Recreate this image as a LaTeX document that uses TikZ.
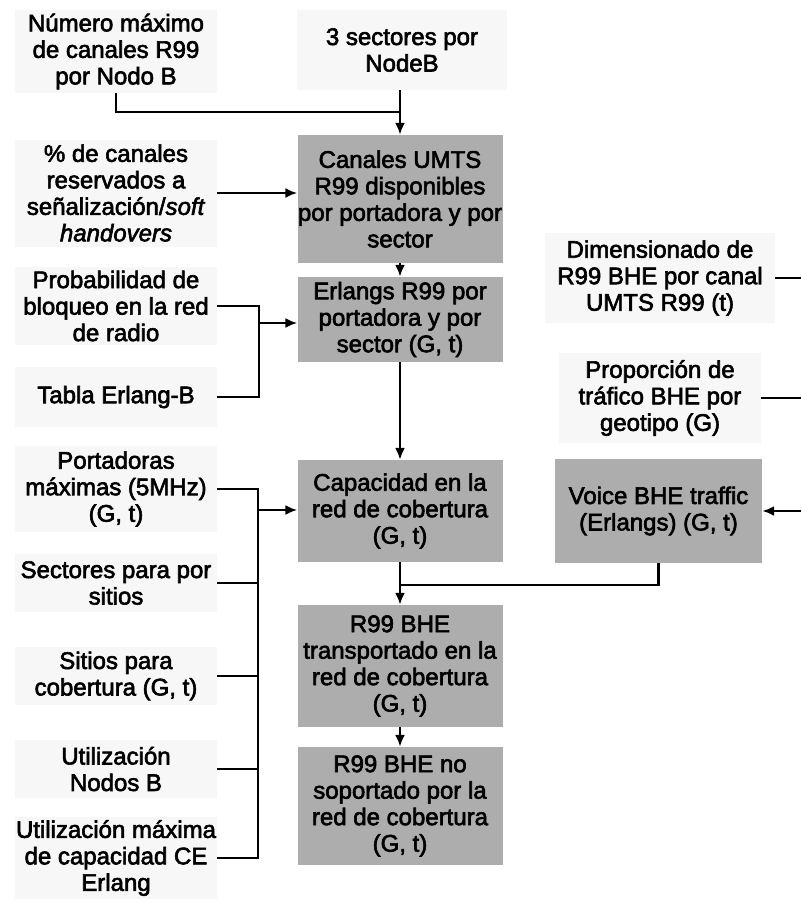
\documentclass[tikz,border=0pt]{standalone}
\usepackage{fontspec}
\setmainfont[FakeBold=2.5]{Liberation Sans}
\usetikzlibrary{arrows.meta}
\begin{document}
\begin{tikzpicture}[x=1pt,y=-1pt,
  txt/.style={font=\fontsize{24}{26.5}\selectfont, align=center, inner sep=0pt},
  ltxt/.style={txt, fill=black!3, minimum width=202pt},
  gbox/.style={txt, fill=black!32, minimum width=205pt},
  conn/.style={line width=2.8pt},
  arr/.style={conn, -{Latex[length=12pt,width=10pt]}}]
\useasboundingbox[fill=white] (0,0) rectangle (801,902);
% grey process boxes
\node[gbox, minimum height=128pt] (canales) at (400,199) {Canales UMTS\\R99 disponibles\\por portadora y por\\sector};
\node[gbox, minimum height=85pt] (erlangs) at (400,319.5) {Erlangs R99 por\\portadora y por\\sector (G, t)};
\node[gbox, minimum height=102pt] (capac) at (400,511) {Capacidad en la\\red de cobertura\\(G, t)};
\node[gbox, minimum height=122pt] (transp) at (400,666) {R99 BHE\\transportado en la\\red de cobertura\\(G, t)};
\node[gbox, minimum height=118pt] (nosop) at (400,806) {R99 BHE no\\soportado por la\\red de cobertura\\(G, t)};
\node[gbox, minimum width=207pt, minimum height=104pt] (voice) at (658.5,511) {Voice BHE traffic\\(Erlangs) (G, t)};
% input texts
\node[ltxt, minimum height=83pt] (numero) at (116,51.5) {Número máximo\\de canales R99\\por Nodo B};
\node[ltxt, minimum width=210pt, minimum height=80pt] (sect3) at (402,50) {3 sectores por\\NodeB};
\node[ltxt, minimum height=107pt] (pct) at (116,193) {\% de canales\\reservados a\\señalización/\textit{soft}\\\textit{handovers}};
\node[ltxt, minimum height=78pt] (prob) at (116,306) {Probabilidad de\\bloqueo en la red\\de radio};
\node[ltxt, minimum height=60pt] (tabla) at (116,397) {Tabla Erlang-B};
\node[ltxt, minimum height=86pt] (portad) at (116,489) {Portadoras\\máximas (5MHz)\\(G, t)};
\node[ltxt, minimum height=58pt] (sectp) at (116,583) {Sectores para por\\sitios};
\node[ltxt, minimum height=58pt] (sitios) at (116,676) {Sitios para\\cobertura (G, t)};
\node[ltxt, minimum height=58pt] (utiliz) at (116,769) {Utilización\\Nodos B};
\node[ltxt, minimum height=82pt] (utilmax) at (116,858) {Utilización máxima\\de capacidad CE\\Erlang};
\node[ltxt, minimum width=230pt, minimum height=90pt] (dimens) at (660,278) {Dimensionado de\\R99 BHE por canal\\UMTS R99 (t)};
\node[ltxt, minimum height=90pt] (propor) at (660,398) {Proporción de\\tráfico BHE por\\geotipo (G)};
% coordinates
\coordinate (j1) at (400,112);
\coordinate (rdim) at (801,278);
\coordinate (rprop) at (801,398);
\coordinate (rvoice) at (801,511);
\coordinate (b1) at (259,323);
\coordinate (b2) at (258,510);
\coordinate (jv) at (400,585);
% connectors
\draw[conn] (numero.south) |- (j1);
\draw[arr] (sect3.south -| canales.north) -- (canales.north);
\draw[arr] (pct.east) -- (pct.east -| canales.west);
\draw[arr] (canales) -- (erlangs);
\draw[conn] (prob.east) -| (b1) |- (tabla.east);
\draw[arr] (b1) -- (b1 -| erlangs.west);
\draw[arr] (erlangs) -- (capac);
\draw[conn] (portad.east) -| (b2) |- (utilmax.east);
\draw[conn] (sectp.east) -- (sectp.east -| b2);
\draw[conn] (sitios.east) -- (sitios.east -| b2);
\draw[conn] (utiliz.east) -- (utiliz.east -| b2);
\draw[arr] (b2) -- (b2 -| capac.west);
\draw[arr] (capac) -- (transp);
\draw[conn] (voice.south) |- (jv);
\draw[arr] (transp) -- (nosop);
\draw[conn] (dimens.east) -- (rdim);
\draw[conn] (propor.east) -- (rprop);
\draw[arr] (rvoice) -- (voice.east);
\end{tikzpicture}
\end{document}
